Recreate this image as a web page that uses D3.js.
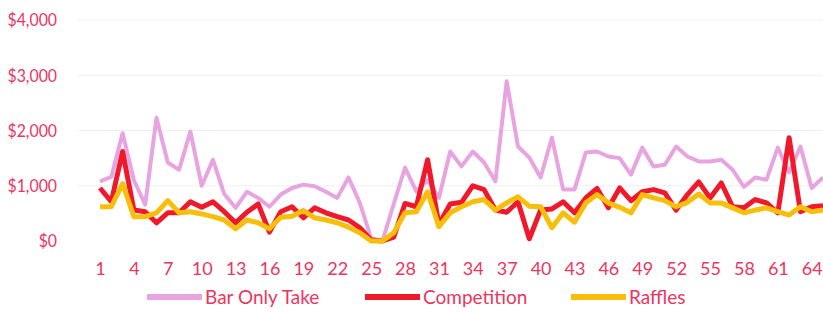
<!DOCTYPE html>
<html><head><meta charset="utf-8">
<script src="https://cdn.jsdelivr.net/npm/d3@7"></script>
<style>
html,body{margin:0;padding:0;background:#fff;}
svg{display:block;}
</style>
</head><body>
<svg id="chart" width="823" height="312"></svg>
<script>
const categories = d3.range(1, 66);
const barOnlyTake = [1080,1160,1950,1100,660,2230,1420,1290,1980,1000,1470,850,600,890,780,620,840,960,1020,990,890,780,1150,690,50,0,670,1330,900,1100,780,1620,1350,1620,1420,1080,2890,1710,1510,1150,1870,930,930,1600,1620,1530,1500,1200,1690,1350,1380,1710,1530,1440,1440,1470,1290,980,1150,1110,1690,1240,1710,960,1150];
const competition = [960,710,1620,560,530,330,510,510,710,610,710,530,330,520,670,160,530,620,420,600,510,440,380,240,20,0,70,680,620,1470,300,670,700,1000,930,560,520,710,40,560,580,710,510,780,950,600,960,730,890,930,870,560,840,1070,780,1050,620,600,750,690,510,1870,530,620,640];
const raffles = [620,620,1040,440,440,510,730,510,530,490,440,380,220,380,330,220,430,450,550,420,380,330,250,150,0,0,150,510,530,890,260,510,620,710,750,560,690,800,630,620,240,510,340,690,840,690,610,510,840,780,730,620,700,850,690,690,600,510,560,600,530,470,620,530,560];
const yTicks = [0,1000,2000,3000,4000];
const xTickLabels = [1,4,7,10,13,16,19,22,25,28,31,34,37,40,43,46,49,52,55,58,61,64];
const seriesNames = ["Bar Only Take","Competition","Raffles"];
const seriesColors = ["#e8a4e0","#f0182a","#f8bf0a"];
const seriesWidths = [4,5,5];

const svg = d3.select("#chart");
const textColor = "#ec3560";
const font = "Lato, 'Open Sans', sans-serif";

const x = d3.scalePoint().domain(categories).range([100, 823]);
const y = d3.scaleLinear().domain([0, 4000]).range([241, 20]);

// gridlines
svg.append("g").selectAll("line").data(yTicks.slice(1)).join("line")
  .attr("x1", 78).attr("x2", 823)
  .attr("y1", d => y(d)).attr("y2", d => y(d))
  .attr("stroke", "#f0f0f0").attr("stroke-width", 1);

// y axis labels
const yAxis = d3.axisLeft(y).tickValues(yTicks).tickSize(0).tickPadding(0)
  .tickFormat(d => "$" + d3.format(",")(d));
const gy = svg.append("g").attr("transform", "translate(57,0)").call(yAxis);
gy.select(".domain").remove();
gy.selectAll("text").attr("fill", textColor).style("font-family", font).style("font-size", "18px")
  .attr("transform", "scale(0.88,1)");

// x axis labels
const xAxis = d3.axisBottom(x).tickValues(xTickLabels).tickSize(0).tickPadding(0);
const gx = svg.append("g").attr("transform", "translate(0,262)").call(xAxis);
gx.select(".domain").remove();
gx.selectAll("text").attr("fill", textColor).style("font-family", font).style("font-size", "18px");

// lines
const allSeries = [barOnlyTake, competition, raffles];
const line = d3.line().x((d, i) => x(categories[i])).y(d => y(d));
allSeries.forEach((s, k) => {
  svg.append("path").datum(s)
    .attr("fill", "none")
    .attr("stroke", seriesColors[k])
    .attr("stroke-width", seriesWidths[k])
    .attr("stroke-linejoin", "round")
    .attr("d", line);
});

// legend
const legendX = [147, 365, 571];
const lg = svg.append("g");
seriesNames.forEach((n, k) => {
  lg.append("line").attr("x1", legendX[k]).attr("x2", legendX[k] + 55)
    .attr("y1", 297).attr("y2", 297)
    .attr("stroke", seriesColors[k]).attr("stroke-width", 6);
  lg.append("text").attr("x", legendX[k] + 58).attr("y", 297)
    .attr("dy", "0.35em").attr("fill", textColor)
    .style("font-family", font).style("font-size", "19px").text(n);
});
</script>
</body></html>
